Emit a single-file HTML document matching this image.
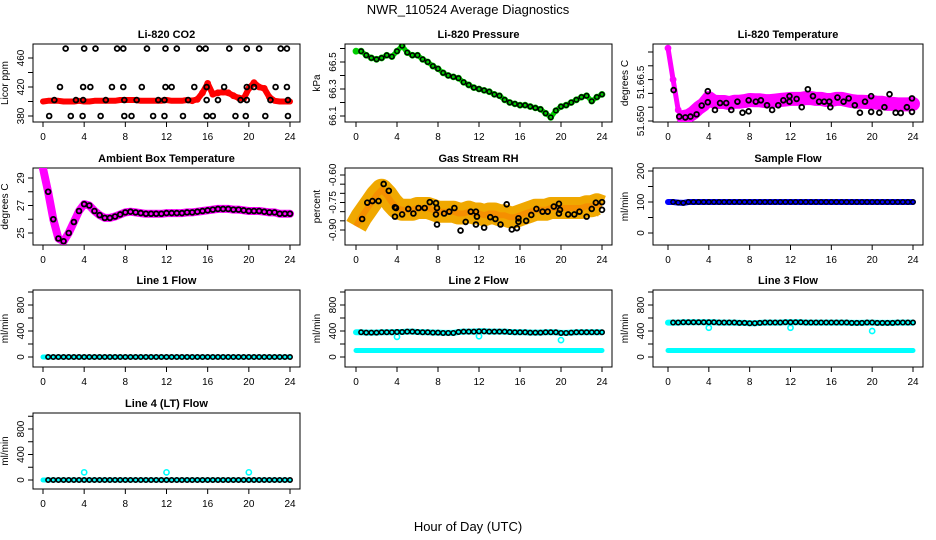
<!DOCTYPE html>
<html><head><meta charset="utf-8"><style>
html,body{margin:0;padding:0;background:#fff;}
svg{display:block;font-family:"Liberation Sans",sans-serif;}
</style></head><body>
<svg id="c" width="936" height="540" viewBox="0 0 936 540" xmlns="http://www.w3.org/2000/svg">
<rect width="936" height="540" fill="#fff"/>
<text x="468" y="14" text-anchor="middle" font-size="13">NWR_110524  Average Diagnostics</text>
<text x="468" y="531" text-anchor="middle" font-size="13">Hour of Day (UTC)</text>
</svg>
<script>
// ---- data ----
const xTicks=[0,4,8,12,16,20,24];
const co2Red=[400,401,401,401,400,400,400,401,400,400,401,401,401,401,401,402,402,402,402,401,401,401,401,401,402,401,401,401,402,401,403,412,425,410,412,413,412,408,405,404,418,426,420,418,406,401,400,400,400];
const co2BlackH=[2.2,4.0,5.1,7.2,7.8,10.1,11.9,13.0,15.2,15.8,18.1,19.8,21.0,23.1,23.7,1.65,3.9,4.6,6.7,7.8,9.6,11.9,12.5,14.7,15.9,17.6,19.8,20.5,22.6,23.7,1.1,3.2,3.9,6.1,7.9,9.1,11.2,11.8,14.1,15.9,17.0,19.2,19.8,22.1,23.8,0.6,2.7,3.85,5.6,7.9,8.6,10.7,11.8,13.6,15.9,16.5,18.7,19.7,21.6,23.8];
const co2BlackV=[473,473,473,473,473,473,473,473,473,473,473,473,473,473,473,420,420,420,420,420,420,420,420,420,420,420,420,420,420,420,402,402,402,402,402,402,402,402,402,402,402,402,402,402,402,380,380,380,380,380,380,380,380,380,380,380,380,380,380,380];
const pressure=[66.58,66.58,66.55,66.53,66.52,66.53,66.55,66.54,66.58,66.62,66.57,66.55,66.55,66.52,66.50,66.47,66.45,66.42,66.40,66.39,66.38,66.35,66.33,66.31,66.30,66.29,66.28,66.26,66.25,66.22,66.20,66.19,66.18,66.18,66.17,66.16,66.15,66.12,66.09,66.14,66.17,66.18,66.20,66.22,66.24,66.25,66.21,66.24,66.26];
const tempMag=[51.6714,51.660,51.649,51.6464,51.6468,51.648,51.6497,51.651,51.6533,51.652,51.6519,51.6519,51.6515,51.652,51.652,51.6522,51.6526,51.6525,51.6525,51.6522,51.6522,51.6524,51.6526,51.6528,51.653,51.653,51.653,51.6533,51.6533,51.653,51.653,51.6526,51.6526,51.653,51.653,51.6526,51.6522,51.652,51.652,51.6519,51.6519,51.6516,51.6516,51.6512,51.6512,51.651,51.651,51.651,51.6512];
const tempBlackH=[0.55,1.1,1.7,2.2,2.8,3.3,3.9,3.9,4.6,5.1,5.7,6.2,6.8,7.3,7.9,7.9,8.6,9.1,9.7,10.2,10.8,11.3,11.9,11.9,12.6,13.1,13.7,14.2,14.8,15.3,15.8,15.9,16.6,17.2,17.7,18.3,18.8,19.3,19.9,19.9,20.7,21.2,21.7,22.3,22.8,23.4,23.9,23.9];
const tempBlackV=[51.6562,51.6466,51.6463,51.6466,51.6474,51.6506,51.6518,51.6558,51.649,51.6515,51.6515,51.649,51.652,51.648,51.6525,51.6485,51.652,51.6525,51.6507,51.649,51.6507,51.6525,51.654,51.652,51.653,51.65,51.6565,51.654,51.652,51.652,51.652,51.65,51.6535,51.652,51.6532,51.6507,51.648,51.652,51.654,51.6483,51.648,51.65,51.6547,51.648,51.6479,51.65,51.6532,51.6483];
const ambient=[29.7,28.0,26.0,24.6,24.4,25.0,25.8,26.6,27.1,27.0,26.6,26.3,26.1,26.1,26.2,26.35,26.5,26.55,26.5,26.45,26.4,26.4,26.4,26.4,26.45,26.45,26.45,26.45,26.5,26.5,26.55,26.6,26.65,26.7,26.75,26.75,26.75,26.7,26.7,26.65,26.6,26.6,26.6,26.55,26.5,26.5,26.4,26.4,26.4];
const rh=[-0.88,-0.83,-0.79,-0.75,-0.71,-0.68,-0.71,-0.75,-0.78,-0.79,-0.79,-0.79,-0.78,-0.78,-0.78,-0.79,-0.80,-0.80,-0.80,-0.80,-0.81,-0.81,-0.80,-0.81,-0.81,-0.82,-0.81,-0.81,-0.82,-0.82,-0.83,-0.83,-0.82,-0.81,-0.80,-0.79,-0.79,-0.79,-0.78,-0.78,-0.78,-0.78,-0.78,-0.78,-0.78,-0.77,-0.77,-0.76,-0.77];
const rhBlackH=[0.6,1.1,1.6,2.2,2.7,3.2,3.8,3.9,3.8,4.5,5.1,5.6,6.1,6.7,7.2,7.8,7.9,7.8,7.9,8.6,9.1,9.6,10.2,10.7,11.2,11.7,11.8,11.7,12.5,13.1,13.6,14.1,14.7,15.2,15.7,15.85,15.85,16.6,17.1,17.6,18.2,18.7,19.3,19.8,19.8,19.9,20.7,21.3,21.8,22.5,23.0,23.4,24.0,24.0];
const rhBlackV=[-0.84,-0.751,-0.742,-0.742,-0.649,-0.686,-0.776,-0.78,-0.827,-0.815,-0.785,-0.81,-0.78,-0.78,-0.748,-0.753,-0.78,-0.815,-0.87,-0.81,-0.80,-0.78,-0.903,-0.856,-0.80,-0.80,-0.827,-0.87,-0.887,-0.83,-0.84,-0.87,-0.76,-0.897,-0.89,-0.836,-0.855,-0.85,-0.818,-0.785,-0.80,-0.80,-0.772,-0.757,-0.81,-0.79,-0.815,-0.815,-0.80,-0.827,-0.785,-0.751,-0.748,-0.79];
const sampleFlow=[100,100,98,97,100,100,100,100,100,100,100,100,100,100,100,100,100,100,100,100,100,100,100,100,100,100,100,100,100,100,100,100,100,100,100,100,100,100,100,100,100,100,100,100,100,100,100,100,100];
const line1Flow=[0,0,0,0,0,0,0,0,0,0,0,0,0,0,0,0,0,0,0,0,0,0,0,0,0,0,0,0,0,0,0,0,0,0,0,0,0,0,0,0,0,0,0,0,0,0,0,0,0];
const line2Flow=[380,380,375,375,375,380,380,380,385,385,390,390,385,380,380,375,375,370,370,370,385,390,390,390,395,395,390,390,390,390,385,380,380,380,375,375,375,380,380,380,370,370,375,380,380,380,380,380,380];
const line2Low=[100,100,100,100,100,100,100,100,100,100,100,100,100,100,100,100,100,100,100,100,100,100,100,100,100,100,100,100,100,100,100,100,100,100,100,100,100,100,100,100,100,100,100,100,100,100,100,100,100];
const line2OutH=[4,12,20];
const line2OutV=[310,320,260];
const line3Flow=[530,530,530,535,535,535,535,535,535,535,530,530,530,530,525,525,520,520,525,530,530,530,530,535,535,535,535,530,530,530,530,530,530,530,530,530,525,525,525,530,530,525,525,525,525,530,530,530,530];
const line3Low=line2Low;
const line3OutH=[4,12,20];
const line3OutV=[450,450,400];
const line4Flow=line1Flow;
const line4OutH=[4,12,20];
const line4OutV=[120,120,120];

const H=[];for(let i=0;i<49;i++)H.push(i/2);

// ---- drawing ----
const svg=document.getElementById('c');
const NS='http://www.w3.org/2000/svg';
function mk(tag,attrs,parent){const e=document.createElementNS(NS,tag);for(const k in attrs)e.setAttribute(k,attrs[k]);(parent||svg).appendChild(e);return e;}
const cols=[{bl:33,br:300,x0:43,x1:290},{bl:345,br:612,x0:356,x1:602},{bl:653,br:923,x0:668,x1:913}];
const rows=[{bt:44,bb:122},{bt:168,bb:245},{bt:290,bb:367},{bt:413,bb:489}];

function panel(name,title,ylab,c,r,v0,y0,v1,y1,ticks,labels){
  const C=cols[c],R=rows[r];
  const g=mk('g',{});
  
  
  const sx=h=>C.x0+(C.x1-C.x0)*h/24;
  const sy=v=>y0+(v-v0)*(y1-y0)/(v1-v0);
  const t=mk('text',{x:(C.bl+C.br)/2,y:R.bt-6,'text-anchor':'middle','font-size':11,'font-weight':'bold'},g);
  t.textContent=title;
  
  
  const box=mk('rect',{x:C.bl,y:R.bt,width:C.br-C.bl,height:R.bb-R.bt,fill:'none',stroke:'#000','stroke-width':1},g);
  
  
  const xa=mk('g',{},g);
  
  
  mk('line',{x1:sx(0),x2:sx(24),y1:R.bb,y2:R.bb,stroke:'#000'},xa);
  xTicks.forEach(h=>{
    mk('line',{x1:sx(h),x2:sx(h),y1:R.bb,y2:R.bb+5,stroke:'#000'},xa);
    const l=mk('text',{x:sx(h),y:R.bb+18,'text-anchor':'middle','font-size':10},xa);l.textContent=h;
  });
  const ya=mk('g',{},g);
  
  
  mk('line',{x1:C.bl,x2:C.bl,y1:sy(ticks[0]),y2:sy(ticks[ticks.length-1]),stroke:'#000'},ya);
  ticks.forEach(v=>mk('line',{x1:C.bl-5,x2:C.bl,y1:sy(v),y2:sy(v),stroke:'#000'},ya));
  labels.forEach(([v,s])=>{
    const y=sy(v);
    const l=mk('text',{x:C.bl-9,y:y,'text-anchor':'middle','font-size':10,transform:`rotate(-90 ${C.bl-9} ${y})`},ya);l.textContent=s;
  });
  const yl=mk('text',{x:C.bl-25,y:(R.bt+R.bb)/2,'text-anchor':'middle','font-size':10,transform:`rotate(-90 ${C.bl-25} ${(R.bt+R.bb)/2})`},g);
  yl.textContent=ylab;
  
  
  const clip='clip'+name;
  const cp=mk('clipPath',{id:clip},g);mk('rect',{x:C.bl,y:R.bt,width:C.br-C.bl,height:R.bb-R.bt},cp);
  const d=mk('g',{'clip-path':`url(#${clip})`},g);
  
  
  return {sx,sy,d};
}
function band(P,hs,vs,color,w,name,op,cap){
  const pts=hs.map((h,i)=>P.sx(h).toFixed(1)+','+P.sy(vs[i]).toFixed(1)).join(' ');
  const p=mk('polyline',{points:pts,fill:'none',stroke:color,'stroke-width':w,'stroke-linejoin':'round','stroke-linecap':cap||'round',opacity:op||1},P.d);
  
  
}
function pts(P,hs,vs,color,name,r,sw){
  const g=mk('g',{},P.d);
  
  
  hs.forEach((h,i)=>mk('circle',{cx:P.sx(h),cy:P.sy(vs[i]),r:r||2.4,fill:'none',stroke:color,'stroke-width':sw||1.6},g));
}

// CO2
let P=panel('co2','Li-820 CO2','Licor ppm',0,0,380,116,460,58,[380,400,420,440,460],[[380,'380'],[420,'420'],[460,'460']]);
band(P,H,co2Red,'#ff0000',6,'co2-red-band');
pts(P,H.slice(29,45),co2Red.slice(29,45),'#ff0000','co2-red-points',2.6);
pts(P,co2BlackH,co2BlackV,'#000','co2-black-points',2.4,1.8);
// Pressure
P=panel('pressure','Li-820 Pressure','kPa',1,0,66.1,116,66.5,62,[66.1,66.2,66.3,66.4,66.5,66.6],[[66.1,'66.1'],[66.3,'66.3'],[66.5,'66.5']]);
band(P,H,pressure,'#00cc00',5,'pressure-green-band');
pts(P,H,pressure,'#00cc00','pressure-green-points',2.6);
pts(P,H.slice(1),pressure.slice(1),'#000','pressure-black-points',2.2,1.5);
// Temperature
P=panel('li820temp','Li-820 Temperature','degrees C',2,0,51.645,121,51.670,52,[51.645,51.650,51.655,51.660,51.665,51.670],[[51.645,'51.650'],[51.659,'51.66.5']]);
band(P,H.slice(3),tempMag.slice(3),'#ff00ff',14,'temp-magenta-band');
band(P,H.slice(0,5),tempMag.slice(0,5),'#ff00ff',5,'temp-magenta-start');
pts(P,H,tempMag,'#ff00ff','temp-magenta-points',2.6);
pts(P,tempBlackH,tempBlackV,'#000','temp-black-points',2.4,1.8);
// Ambient
P=panel('ambient','Ambient Box Temperature','degrees C',0,1,25,233,29,178,[25,26,27,28,29],[[25,'25'],[27,'27'],[29,'29']]);
band(P,H,ambient,'#ff00ff',8,'ambient-magenta-band');
pts(P,H.slice(1),ambient.slice(1),'#000','ambient-black-points',2.4,1.8);
// RH
P=panel('rh','Gas Stream RH','percent',1,1,-0.9,230,-0.6,175,[-0.9,-0.85,-0.8,-0.75,-0.7,-0.65,-0.6],[[-0.9,'-0.90'],[-0.75,'-0.75'],[-0.6,'-0.60']]);
band(P,H,rh,'#f0a800',22,'rh-orange-band',1,'butt');
band(P,H,rh,'#ff6000',6,'rh-red-core',0.35,'butt');
pts(P,rhBlackH,rhBlackV,'#000','rh-black-points',2.4,1.8);
// Sample flow
P=panel('sampleflow','Sample Flow','ml/min',2,1,0,233,200,171,[0,50,100,150,200],[[0,'0'],[100,'100'],[200,'200']]);
band(P,H,sampleFlow,'#0000ff',6,'sampleflow-blue-band');
pts(P,H.slice(1),sampleFlow.slice(1),'#000','sampleflow-black-points',2.2,1.4);
// Line flows
const lt=[0,200,400,600,800,1000],ll=[[0,'0'],[400,'400'],[800,'800']];
P=panel('line1','Line 1 Flow','ml/min',0,2,0,357,800,305,lt,ll);
band(P,H,line1Flow,'#00ffff',5,'line1-cyan-band');
pts(P,H.slice(1),line1Flow.slice(1),'#000','line1-black-points',2.2,1.6);
P=panel('line2','Line 2 Flow','ml/min',1,2,0,357,800,305,lt,ll);
band(P,H,line2Low,'#00ffff',5,'line2-cyan-low');
band(P,H,line2Flow,'#00ffff',6,'line2-cyan-band');
pts(P,line2OutH,line2OutV,'#00ffff','line2-cyan-outliers',2.6);
pts(P,H.slice(1),line2Flow.slice(1),'#000','line2-black-points',2.2,1.6);
P=panel('line3','Line 3 Flow','ml/min',2,2,0,357,800,305,lt,ll);
band(P,H,line3Low,'#00ffff',5,'line3-cyan-low');
band(P,H,line3Flow,'#00ffff',6,'line3-cyan-band');
pts(P,line3OutH,line3OutV,'#00ffff','line3-cyan-outliers',2.6);
pts(P,H.slice(1),line3Flow.slice(1),'#000','line3-black-points',2.2,1.6);
P=panel('line4','Line 4 (LT) Flow','ml/min',0,3,0,480,800,429,lt,ll);
band(P,H,line4Flow,'#00ffff',5,'line4-cyan-band');
pts(P,line4OutH,line4OutV,'#00ffff','line4-cyan-outliers',2.6);
pts(P,H.slice(1),line4Flow.slice(1),'#000','line4-black-points',2.2,1.6);
</script>
</body></html>
